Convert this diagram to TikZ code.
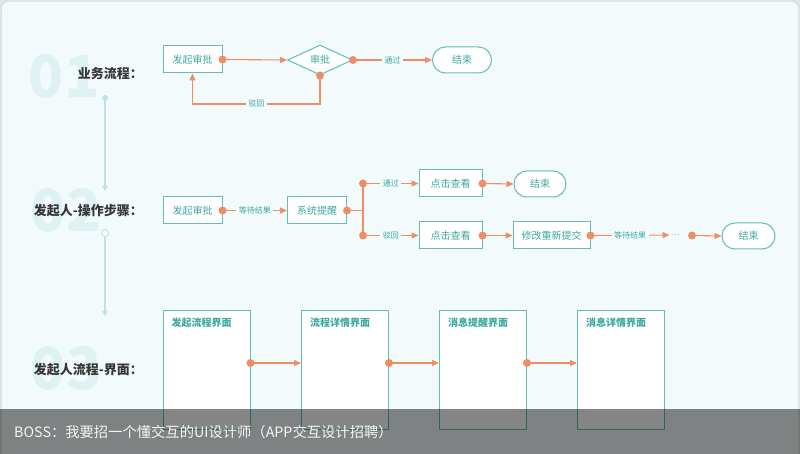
\documentclass[tikz,border=0pt]{standalone}
\usepackage{fontspec}
\setmainfont{Noto Sans CJK SC}
\usetikzlibrary{positioning,arrows.meta,shapes.geometric}
\definecolor{bgc}{HTML}{F2FAFB}
\definecolor{edgec}{HTML}{DCE6E4}
\definecolor{tealc}{HTML}{62BDB7}
\definecolor{tealt}{HTML}{3FA9A1}
\definecolor{orc}{HTML}{EE8E65}
\definecolor{numc}{HTML}{DFF2F3}
\definecolor{linec}{HTML}{BDE2E4}
\definecolor{darkc}{HTML}{363636}
\begin{document}
\begin{tikzpicture}[x=1pt,y=-1pt,
  box/.style={draw=tealc,fill=white,line width=1pt,minimum width=59pt,minimum height=27pt,inner sep=0pt,text=tealt,font=\fontsize{10}{12}\selectfont},
  endbox/.style={box,rounded corners=13pt,minimum height=26pt},
  decide/.style={box,diamond,minimum width=65pt,minimum height=30pt},
  pagebox/.style={draw=tealc,fill=white,line width=1pt,minimum width=87pt,minimum height=119pt,anchor=north},
  pagetitle/.style={text=tealt,font=\fontsize{10}{12}\selectfont\bfseries,inner sep=0pt},
  lbl/.style={fill=bgc,text=tealt,font=\fontsize{8}{9}\selectfont,inner sep=2.5pt},
  flow/.style={draw=orc,line width=1.1pt,-{Triangle[length=7pt,width=6pt]}},
  plain/.style={draw=orc,line width=1.1pt},
  dot/.style={circle,fill=orc,inner sep=0pt,minimum size=8pt},
  rowtitle/.style={anchor=east,text=darkc,font=\fontsize{13}{15}\selectfont\bfseries,inner sep=0pt},
  bignum/.style={text=numc,font=\fontsize{58}{60}\selectfont\bfseries,inner sep=0pt},
  tline/.style={draw=linec,line width=1.2pt,-{Triangle[length=5pt,width=5pt]}}]
\useasboundingbox (0,0) rectangle (800,454);
\fill[edgec] (0,0) rectangle (800,454);
\draw[edgec!80!gray,fill=bgc,rounded corners=7pt] (1.5,1.5) rectangle (798.5,470);

\node[bignum] (n1) at (64,76) {01};
\node[bignum] (n2) at (66,210) {02};
\node[bignum] (n3) at (66,368) {03};
\node[rowtitle] (h1) at (143,74) {业务流程：};
\node[rowtitle] (h2) at (143,211) {发起人-操作步骤：};
\node[rowtitle] (h3) at (143,370) {发起人流程-界面：};

\node[circle,fill=linec,inner sep=0pt,minimum size=6pt] (t1) at (105,98) {};
\coordinate (t1end) at (105,191);
\draw[tline] (t1) -- (t1end);
\node[circle,draw=linec,fill=white,line width=1pt,inner sep=0pt,minimum size=7pt] (t2) at (105,233) {};
\coordinate (t2end) at (105,316);
\draw[tline] (t2) -- (t2end);

\node[box] (r1a) at (192.5,59.5) {发起审批};
\node[decide] (r1b) at (320,60) {审批};
\node[endbox] (r1c) at (462,60) {结束};
\coordinate (r1back) at (320,104);
\draw[flow] (r1a.east) -- (r1b.west);
\draw[flow] (r1b.east) -- node[lbl] (l1a) {通过} (r1c.west);
\draw[flow] (r1b.south) -- (r1back) -| node[lbl,pos=0.25] (l1b) {驳回} (r1a.south);
\node[dot] (d1a) at (r1a.east) {};
\node[dot] (d1b) at (r1b.east) {};
\node[dot] (d1c) at (r1b.south) {};

\node[box] (r2a) at (192.5,210.5) {发起审批};
\node[box] (r2b) at (317,210.5) {系统提醒};
\node[box,minimum width=63pt] (r2c) at (450.5,183.5) {点击查看};
\node[endbox,minimum width=52pt] (r2d) at (540,184) {结束};
\node[box,minimum width=63pt] (r2e) at (450.5,235.5) {点击查看};
\node[box,minimum width=77pt] (r2f) at (551.5,235.5) {修改重新提交};
\node[text=gray!70,font=\fontsize{8}{9}\selectfont,inner sep=1pt] (r2dots) at (675,235) {…};
\node[endbox,minimum width=53pt] (r2g) at (748.5,236) {结束};
\coordinate (r2fork) at (363,210.5);
\coordinate (r2up) at (363,183.5);
\coordinate (r2dn) at (363,235.5);
\coordinate (r2tail) at (692,235.5);
\draw[flow] (r2a.east) -- node[lbl] (l2a) {等待结果} (r2b.west);
\draw[plain] (r2b.east) -- (r2fork);
\draw[plain] (r2up) -- (r2dn);
\draw[flow] (r2up) -- node[lbl] (l2b) {通过} (r2c.west);
\draw[flow] (r2dn) -- node[lbl] (l2c) {驳回} (r2e.west);
\draw[flow] (r2c.east) -- (r2d.west);
\draw[flow] (r2e.east) -- (r2f.west);
\draw[flow] (r2f.east) -- node[lbl] (l2d) {等待结果} (r2dots.west);
\draw[flow] (r2tail) -- (r2g.west);
\foreach \p in {r2a.east,r2b.east,r2up,r2dn,r2c.east,r2e.east,r2f.east,r2tail}
  \node[dot] at (\p) {};

\node[pagebox] (s1) at (206.5,310) {};
\node[pagebox] (s2) at (345,310) {};
\node[pagebox] (s3) at (483,310) {};
\node[pagebox] (s4) at (621,310) {};
\node[pagetitle,below right=8pt and 9pt of s1.north west] (s1t) {发起流程界面};
\node[pagetitle,below right=8pt and 9pt of s2.north west] (s2t) {流程详情界面};
\node[pagetitle,below right=8pt and 9pt of s3.north west] (s3t) {消息提醒界面};
\node[pagetitle,below right=8pt and 9pt of s4.north west] (s4t) {消息详情界面};
\coordinate (r3y) at (0,363);
\draw[flow] (s1.east |- r3y) -- (s2.west |- r3y);
\draw[flow] (s2.east |- r3y) -- (s3.west |- r3y);
\draw[flow] (s3.east |- r3y) -- (s4.west |- r3y);
\foreach \s in {s1,s2,s3}
  \node[dot] at (\s.east |- r3y) {};

\fill[black,opacity=0.48] (0,409) rectangle (800,454);
\node[anchor=west,text=white!92!gray,font=\fontsize{14.3}{16}\selectfont,inner sep=0pt] (bann) at (14,432) {BOSS：我要招一个懂交互的UI设计师（APP交互设计招聘）};
\end{tikzpicture}
\end{document}
